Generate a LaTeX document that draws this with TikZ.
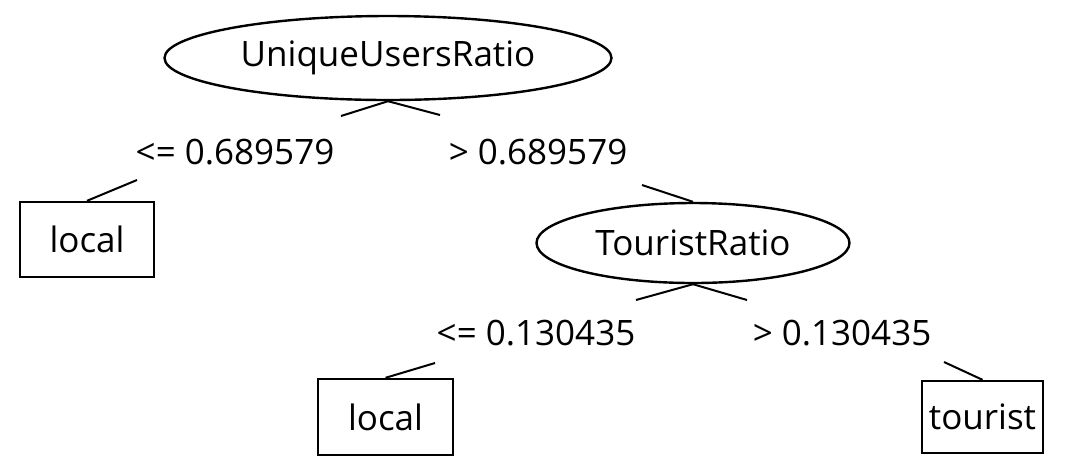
\documentclass[tikz,border=0pt]{standalone}
\usepackage{fontspec}
\setmainfont{Open Sans}
\usetikzlibrary{shapes.geometric}

\begin{document}
\begin{tikzpicture}[x=0.5pt,y=-0.5pt,
    test/.style={ellipse,draw,line width=1.2pt,inner sep=0pt,font=\fontsize{17.5}{20}\selectfont},
    leaf/.style={rectangle,draw,line width=1.2pt,inner sep=0pt,font=\fontsize{17.5}{20}\selectfont},
    cond/.style={inner sep=0pt,font=\fontsize{17.5}{20}\selectfont},
    edge/.style={line width=1pt}]
  \useasboundingbox (0,0) rectangle (1080,473);

  % split nodes
  \node[test,minimum width=223.5pt,minimum height=42pt] (uur) at (388,58) {UniqueUsersRatio};
  \node[test,minimum width=156.5pt,minimum height=40pt] (tr) at (693,243) {TouristRatio};

  % branch conditions
  \node[cond] (lblA) at (235,152) {<= 0.689579};
  \node[cond] (lblB) at (538,152) {> 0.689579};
  \node[cond] (lblC) at (536,333) {<= 0.130435};
  \node[cond] (lblD) at (842,333) {> 0.130435};

  % leaves
  \node[leaf,minimum width=67pt,minimum height=37.5pt] (leafA) at (87,239.5) {local};
  \node[leaf,minimum width=67.5pt,minimum height=38pt] (leafB) at (385.5,417) {local};
  \node[leaf,minimum width=60.5pt,minimum height=36pt] (leafC) at (982.5,417) {tourist};

  % free ends of the stubs
  \coordinate (uurL) at (341,116);
  \coordinate (uurR) at (440,115);
  \coordinate (lblAend) at (137,180);
  \coordinate (lblBend) at (642,185);
  \coordinate (trL) at (636,300);
  \coordinate (trR) at (747,300);
  \coordinate (lblCend) at (435,363);
  \coordinate (lblDend) at (944,362);

  \draw[edge] (uur.south) -- (uurL);
  \draw[edge] (uur.south) -- (uurR);
  \draw[edge] (lblAend) -- (leafA.north);
  \draw[edge] (lblBend) -- (tr.north);
  \draw[edge] (tr.south) -- (trL);
  \draw[edge] (tr.south) -- (trR);
  \draw[edge] (lblCend) -- (leafB.north);
  \draw[edge] (lblDend) -- (leafC.north);

\end{tikzpicture}
\end{document}
